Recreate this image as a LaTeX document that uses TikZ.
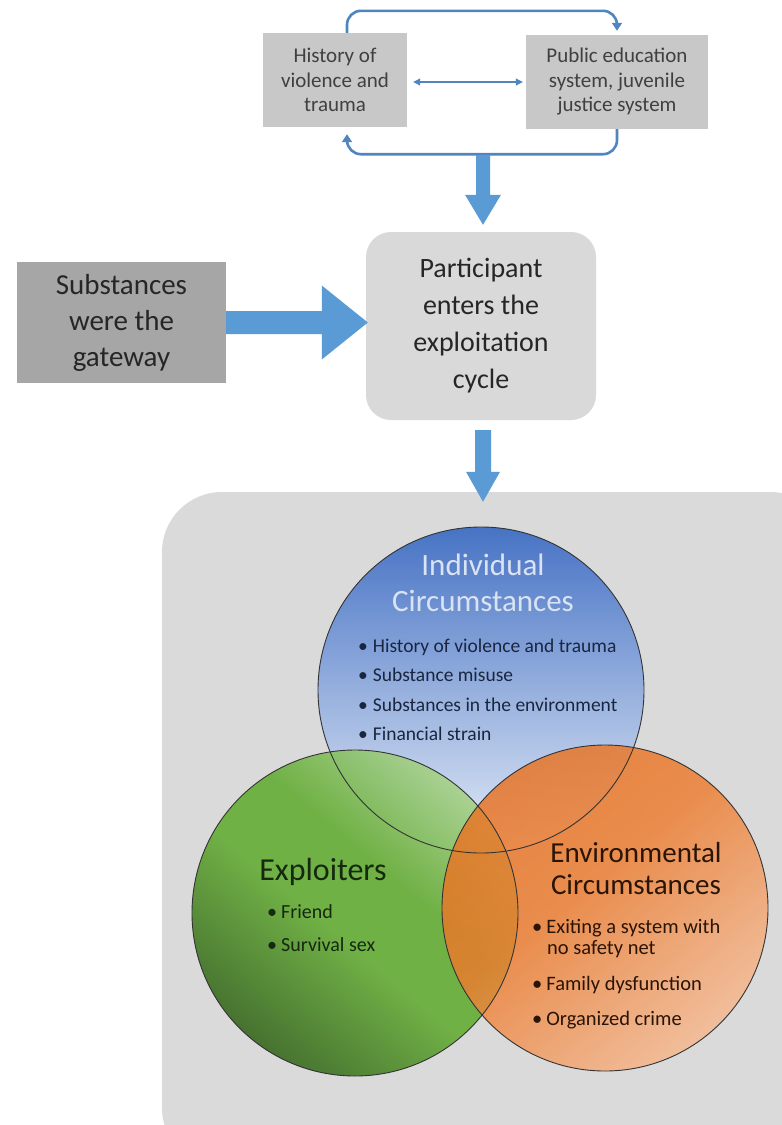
\documentclass[tikz,border=0pt]{standalone}
\usepackage{fontspec}
\setmainfont{Carlito}
\usetikzlibrary{arrows.meta,calc}
\definecolor{topgray}{HTML}{C8C8C8}
\definecolor{darkgray}{HTML}{A6A6A6}
\definecolor{lightgray}{HTML}{D9D9D9}
\definecolor{venngray}{HTML}{DADADA}
\definecolor{arrowblue}{HTML}{5B9BD5}
\definecolor{thinblue}{HTML}{4F86C0}
\definecolor{txtgray}{HTML}{404040}
\definecolor{txtdark}{HTML}{262626}
\definecolor{blueA}{HTML}{4270C4}
\definecolor{blueB}{HTML}{6F95D6}
\definecolor{blueC}{HTML}{E6EDF9}
\definecolor{blueTitle}{HTML}{DAE3F3}
\definecolor{blueText}{HTML}{1A2640}
\definecolor{greenA}{HTML}{C9E4B6}
\definecolor{greenB}{HTML}{68AE3A}
\definecolor{greenC}{HTML}{34601E}
\definecolor{greenText}{HTML}{152810}
\definecolor{orangeA}{HTML}{E8701E}
\definecolor{orangeB}{HTML}{ED7B2D}
\definecolor{orangeC}{HTML}{F7BE98}
\definecolor{orangeText}{HTML}{2A1405}
\pgfdeclareverticalshading{greenlin}{100bp}{color(0bp)=(greenC); color(22bp)=(greenC);
  color(46bp)=(greenB); color(58bp)=(greenB); color(84bp)=(greenA); color(100bp)=(greenA)}
\pgfdeclareverticalshading{orangelin}{100bp}{color(0bp)=(orangeC); color(22bp)=(orangeC);
  color(55bp)=(orangeB); color(80bp)=(orangeA); color(100bp)=(orangeA)}
\begin{document}
\begin{tikzpicture}[x=1pt,y=-1pt,
  topbox/.style={fill=topgray,inner sep=0pt,align=center,text=txtgray,
    font=\fontsize{21}{24.5}\selectfont,minimum height=94},
  thinarrow/.style={draw=thinblue,line width=2.6,rounded corners=14,
    -{Triangle[length=8pt,width=10pt]}},
  blockarrow/.style={fill=arrowblue,draw=none},
  vennline/.style={draw=black!80,line width=0.9},
  bul/.style={inner sep=0pt,anchor=base west},
]
\useasboundingbox (0,0) rectangle (782,1125);
\fill[white] (0,0) rectangle (782,1125);

% ---------- top boxes ----------
\node[topbox,minimum width=144] (hist) at (335,80) {History of\\violence and\\trauma};
\node[topbox,minimum width=182] (pub) at (617,82) {Public education\\system, juvenile\\justice system};

\draw[thinarrow] ([xshift=12]hist.north) -- ++(0,-22) -| ([yshift=4]pub.north);
\draw[thinarrow] (pub.south) -- ++(0,25) -| ([xshift=12,yshift=-7]hist.south);
\draw[draw=thinblue,line width=1.1,{Triangle[length=7pt,width=7pt]}-{Triangle[length=7pt,width=7pt]}]
  ([xshift=6]hist.east |- 0,82) -- ([xshift=-3]pub.west);

% ---------- participant & substances ----------
\node[fill=lightgray,rounded corners=25,minimum width=230,minimum height=188,
  align=center,text=txtdark,font=\fontsize{28}{37}\selectfont,inner sep=0pt]
  (part) at (481,326) {Participant\\enters the\\exploitation\\cycle};
\node[fill=darkgray,minimum width=209,minimum height=121,align=center,
  text=txtdark,font=\fontsize{29}{36}\selectfont,inner sep=0pt]
  (subst) at (121.5,322.5) {Substances\\were the\\gateway};

% junction on lower loop
\coordinate (j) at (483,155);
\coordinate (t1) at ($(j |- part.north)+(0,-7)$);
\fill[blockarrow] ($(j)+(-7,0)$) -- ($(t1)+(-7,-30)$) -- ($(t1)+(-18,-30)$) -- (t1)
  -- ($(t1)+(18,-30)$) -- ($(t1)+(7,-30)$) -- ($(j)+(7,0)$) -- cycle;

% right block arrow
\coordinate (t2) at ($(part.west |- subst.east)+(2,0)$);
\fill[blockarrow] ($(subst.east)+(0,-11.5)$) -- ($(t2)+(-46,-11.5)$) -- ($(t2)+(-46,-37)$)
  -- (t2) -- ($(t2)+(-46,37)$) -- ($(t2)+(-46,11.5)$) -- ($(subst.east)+(0,11.5)$) -- cycle;

% ---------- venn panel ----------
\begin{scope}
\clip (0,0) rectangle (782,1125);
\node[fill=venngray,rounded corners=60,minimum width=668,minimum height=676,inner sep=0pt]
  (venn) at (496,830) {};
\end{scope}

% down block arrow
\coordinate (s3) at ($(part.south)+(2,10)$);
\coordinate (t3) at ($(s3 |- venn.north)+(0,10)$);
\fill[blockarrow] ($(s3)+(-8,0)$) -- ($(t3)+(-8,-30)$) -- ($(t3)+(-17,-30)$) -- (t3)
  -- ($(t3)+(17,-30)$) -- ($(t3)+(8,-30)$) -- ($(s3)+(8,0)$) -- cycle;

% circles
\coordinate (ci) at (481,690);
\coordinate (cg) at (355,913);
\coordinate (co) at (605,908);
\shade[top color=blueA,middle color=blueB,bottom color=blueC,fill opacity=0.97]
  (ci) circle[radius=163];
\shade[shading=greenlin,shading angle=-40,fill opacity=0.92]
  (cg) circle[radius=163];
\shade[shading=orangelin,shading angle=40,fill opacity=0.82]
  (co) circle[radius=163];
\draw[vennline] (ci) circle[radius=163];
\draw[vennline] (cg) circle[radius=163];
\draw[vennline] (co) circle[radius=163];

% individual
\node[align=center,text=blueTitle,font=\fontsize{31}{36}\selectfont,inner sep=0pt]
  (it) at (483,583) {Individual\\Circumstances};
\begin{scope}[every node/.style={bul,text=blueText,font=\fontsize{19.5}{24}\selectfont}]
\node (ib1) at (358,652) {\textbullet\hspace{5pt}History of violence and trauma};
\node (ib2) at (358,681) {\textbullet\hspace{5pt}Substance misuse};
\node (ib3) at (358,711) {\textbullet\hspace{5pt}Substances in the environment};
\node (ib4) at (358,740) {\textbullet\hspace{5pt}Financial strain};
\end{scope}

% exploiters
\node[text=greenText,font=\fontsize{32}{36}\selectfont,inner sep=0pt,anchor=base]
  (et) at (323,880) {Exploiters};
\begin{scope}[every node/.style={bul,text=greenText,font=\fontsize{20}{24}\selectfont}]
\node (eb1) at (267,918) {\textbullet\hspace{4pt}Friend};
\node (eb2) at (267,951) {\textbullet\hspace{4pt}Survival sex};
\end{scope}

% environmental
\node[align=center,text=orangeText,font=\fontsize{29}{32}\selectfont,inner sep=0pt]
  (ot) at (636,869) {Environmental\\Circumstances};
\begin{scope}[every node/.style={bul,text=orangeText,font=\fontsize{20.5}{24}\selectfont}]
\node (ob1) at (532,933) {\textbullet\hspace{4pt}Exiting a system with};
\node (ob1b) at (ob1.base west) [xshift=15,yshift=-21.5] {no safety net};
\node (ob2) at (532,990) {\textbullet\hspace{4pt}Family dysfunction};
\node (ob3) at (532,1025) {\textbullet\hspace{4pt}Organized crime};
\end{scope}
\end{tikzpicture}
\end{document}
